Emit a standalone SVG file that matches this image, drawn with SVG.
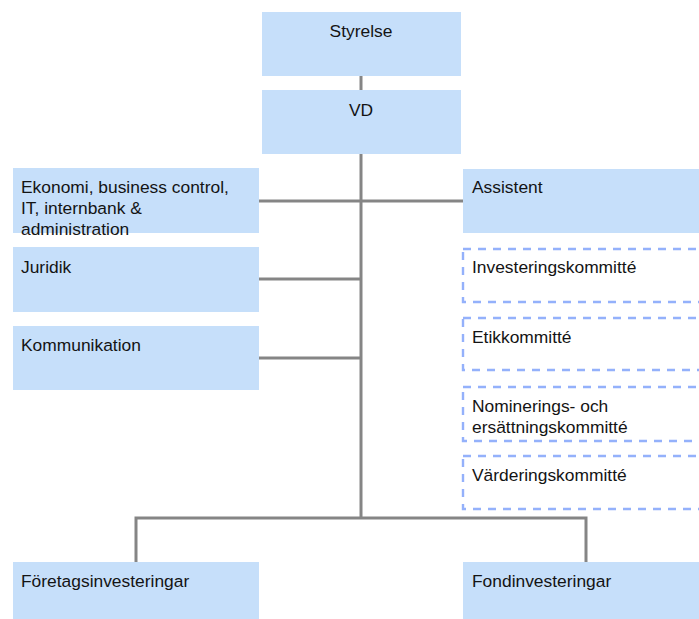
<svg xmlns="http://www.w3.org/2000/svg" width="699" height="619" viewBox="0 0 699 619">
  <style>
    .box { fill: #c6dffa; }
    .dash { fill: none; stroke: #94b1fb; stroke-width: 2.4; stroke-dasharray: 8 7; }
    .lbl { font-family: "Liberation Sans", Arial, sans-serif; font-size: 17.4px; fill: #141414; }
    .mid { text-anchor: middle; }
    .conn { fill: none; stroke: #858585; stroke-width: 3; }
  </style>
  <rect width="699" height="619" fill="#ffffff"/>

  <!-- connectors -->
  <g id="connectors">
    <path class="conn" d="M361 76 V90"/>
    <path class="conn" d="M361 154 V518"/>
    <path class="conn" d="M259 201 H463"/>
    <path class="conn" d="M259 279 H361"/>
    <path class="conn" d="M259 358 H361"/>
    <path class="conn" d="M136 562 V518 H586 V562"/>
  </g>

  <g id="styrelse">
    <rect class="box" x="262" y="12" width="199" height="64"/>
    <text class="lbl mid" x="361" y="37">Styrelse</text>
  </g>
  <g id="vd">
    <rect class="box" x="262" y="90" width="199" height="64"/>
    <text class="lbl mid" x="361" y="116">VD</text>
  </g>

  <g id="ekonomi">
    <rect class="box" x="13" y="168" width="246" height="65"/>
    <text class="lbl" x="21" y="193">Ekonomi, business control,</text>
    <text class="lbl" x="21" y="214">IT, internbank &amp;</text>
    <text class="lbl" x="21" y="235">administration</text>
  </g>
  <g id="juridik">
    <rect class="box" x="13" y="247" width="246" height="65"/>
    <text class="lbl" x="21" y="273">Juridik</text>
  </g>
  <g id="kommunikation">
    <rect class="box" x="13" y="326" width="246" height="64"/>
    <text class="lbl" x="21" y="351">Kommunikation</text>
  </g>

  <g id="assistent">
    <rect class="box" x="463" y="169" width="240" height="64"/>
    <text class="lbl" x="472" y="193">Assistent</text>
  </g>
  <g id="investeringskommitte">
    <rect class="dash" x="463" y="249" width="260" height="53"/>
    <text class="lbl" x="472" y="273">Investeringskommitté</text>
  </g>
  <g id="etikkommitte">
    <rect class="dash" x="463" y="318" width="260" height="52"/>
    <text class="lbl" x="472" y="343">Etikkommitté</text>
  </g>
  <g id="nomineringskommitte">
    <rect class="dash" x="463" y="387" width="260" height="54"/>
    <text class="lbl" x="472" y="412">Nominerings- och</text>
    <text class="lbl" x="472" y="433">ersättningskommitté</text>
  </g>
  <g id="varderingskommitte">
    <rect class="dash" x="463" y="456" width="260" height="53"/>
    <text class="lbl" x="472" y="481">Värderingskommitté</text>
  </g>

  <g id="foretagsinvesteringar">
    <rect class="box" x="13" y="562" width="246" height="60"/>
    <text class="lbl" x="21" y="587">Företagsinvesteringar</text>
  </g>
  <g id="fondinvesteringar">
    <rect class="box" x="463" y="562" width="240" height="60"/>
    <text class="lbl" x="472" y="587">Fondinvesteringar</text>
  </g>
</svg>
